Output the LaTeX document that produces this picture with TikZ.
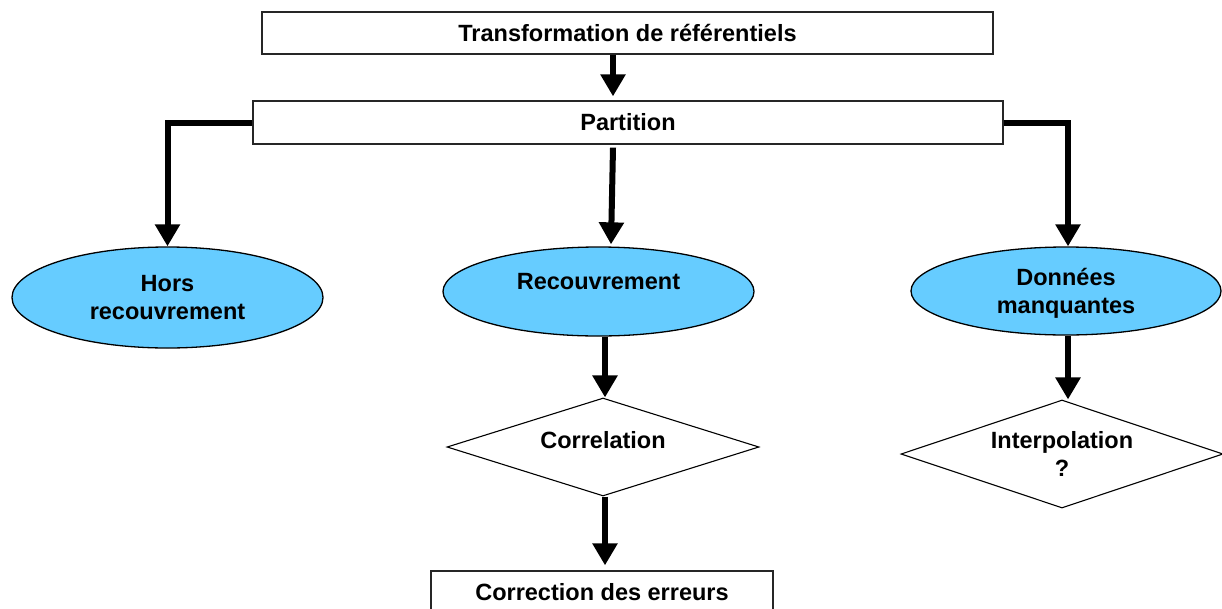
\documentclass[tikz,border=0pt]{standalone}
\usepackage{fontspec}
\setmainfont{Liberation Sans}
\usetikzlibrary{shapes.geometric,arrows.meta,calc}
\definecolor{ellblue}{HTML}{66CCFF}
\newcommand{\twolines}[2]{\begin{tabular}{@{}c@{}}#1\\#2\end{tabular}}
\begin{document}
\begin{tikzpicture}[x=1pt,y=-1pt,
  every node/.style={font=\fontsize{23.5}{27.5}\selectfont\bfseries, align=center, inner sep=0pt},
  box/.style={draw=black!85, line width=1.3pt, fill=white, rectangle},
  oval/.style={draw=black, line width=1.3pt, fill=ellblue, ellipse},
  choice/.style={draw=black, line width=1.1pt, fill=white, diamond, aspect=3},
  arr/.style={line width=6pt, -{Triangle[width=24pt,length=22pt]}}]
\useasboundingbox (0,0) rectangle (1222,608);
\clip (0,0) rectangle (1222,608);

\node[box, minimum width=731pt, minimum height=42pt] (top) at (627.5,33) {Transformation de référentiels};
\node[box, minimum width=750pt, minimum height=43pt] (part) at (628,122.5) {Partition};
\node[oval, minimum width=311pt, minimum height=101pt] (hors) at (167.5,297.5) {Hors\\recouvrement};
\node[oval, minimum width=311pt, minimum height=89pt] (rec) at (598.5,291.5) {\raisebox{10pt}[\height][\depth]{Recouvrement}};
\node[oval, minimum width=310pt, minimum height=88pt] (don) at (1066,291) {\raisebox{-3pt}[\height][\depth]{\twolines{Données}{manquantes}}};
\node[choice, minimum width=312pt, minimum height=98pt] (corr) at (603,447) {\raisebox{7pt}[\height][\depth]{Correlation}};
\node[choice, minimum width=322pt, minimum height=108pt] (interp) at (1062,454) {\raisebox{-3pt}[\height][\depth]{\twolines{Interpolation}{?}}};
\node[box, minimum width=342pt, minimum height=42pt] (fix) at (602,592) {Correction des erreurs};

\draw[arr] ($(top.south)+(-14.5,0)$) -- ($(part.north)+(-15,-4)$);
\draw[arr] (part.west) -| (hors.north);
\draw[arr] ($(part.south)+(-15,3)$) -- ($(rec.north)+(12.5,-2)$);
\draw[arr] (part.east) -| ($(don.north)+(2,0)$);
\draw[arr] ($(rec.south)+(6.5,0)$) -- ($(corr.north)+(2,0)$);
\draw[arr] ($(corr.south)+(2,0)$) -- ($(fix.north)+(3,-5)$);
\draw[arr] ($(don.south)+(2,0)$) -- ($(interp.north)+(6,0)$);
\end{tikzpicture}
\end{document}
